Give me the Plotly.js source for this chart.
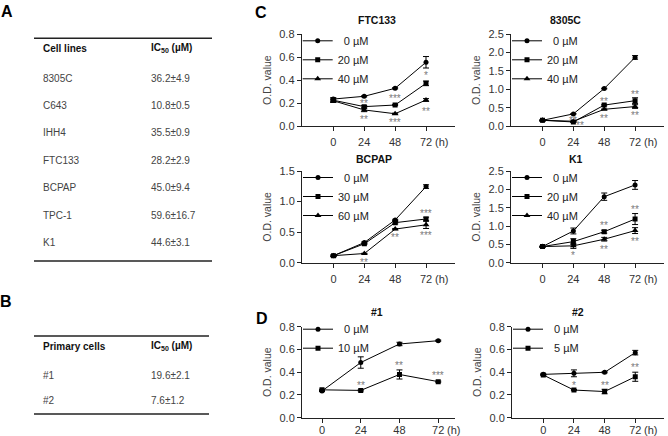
<!DOCTYPE html>
<html><head><meta charset="utf-8">
<script src="https://cdn.plot.ly/plotly-3.0.1.min.js"></script>
<style>html,body{margin:0;padding:0;background:#fff}#chart{width:668px;height:436px}</style>
</head><body><div id="chart"></div>
<script>
// ---------- data ----------
const hours = [0, 24, 48, 72];
const hourLabels = ['0', '24', '48', '72'];

// Table A
const cellLines = ['8305C', 'C643', 'IHH4', 'FTC133', 'BCPAP', 'TPC-1', 'K1'];
const cellIC50 = ['36.2±4.9', '10.8±0.5', '35.5±0.9', '28.2±2.9', '45.0±9.4', '59.6±16.7', '44.6±3.1'];
// Table B
const primaryCells = ['#1', '#2'];
const primaryIC50 = ['19.6±2.1', '7.6±1.2'];

// FTC133
const ftc133Doses = ['0 µM', '20 µM', '40 µM'];
const ftc133_0 = [0.235, 0.259, 0.329, 0.556];
const ftc133_0err = [0.01, 0.005, 0.005, 0.05];
const ftc133_20 = [0.225, 0.169, 0.183, 0.372];
const ftc133_20err = [0.02, 0.01, 0.005, 0.02];
const ftc133_40 = [0.22, 0.14, 0.107, 0.227];
const ftc133_40err = [0.01, 0.015, 0.005, 0.012];
const ftc133SigX = [24, 24, 48, 48, 72, 72];
const ftc133SigY = [0.212, 0.072, 0.26, 0.051, 0.46, 0.148];
const ftc133SigText = ['**', '**', '***', '***', '*', '**'];

// 8305C
const c8305Doses = ['0 µM', '20 µM', '40 µM'];
const c8305_0 = [0.155, 0.33, 1.02, 1.87];
const c8305_0err = [0.01, 0.01, 0.01, 0.05];
const c8305_20 = [0.155, 0.11, 0.57, 0.69];
const c8305_20err = [0.01, 0.01, 0.02, 0.08];
const c8305_40 = [0.155, 0.13, 0.455, 0.53];
const c8305_40err = [0.01, 0.01, 0.01, 0.05];
const c8305SigX = [24, 29.5, 48, 48, 72, 72];
const c8305SigY = [0.21, 0.074, 0.735, 0.253, 0.918, 0.346];
const c8305SigText = ['**', '**', '**', '**', '**', '**'];

// BCPAP
const bcpapDoses = ['0 µM', '30 µM', '60 µM'];
const bcpap_0 = [0.115, 0.33, 0.70, 1.245];
const bcpap_0err = [0.01, 0.01, 0.01, 0.03];
const bcpap_30 = [0.115, 0.31, 0.655, 0.715];
const bcpap_30err = [0.01, 0.01, 0.02, 0.03];
const bcpap_60 = [0.115, 0.15, 0.55, 0.62];
const bcpap_60err = [0.01, 0.005, 0.01, 0.06];
const bcpapSigX = [24, 48, 72, 72];
const bcpapSigY = [0.044, 0.44, 0.84, 0.475];
const bcpapSigText = ['**', '**', '***', '***'];

// K1
const k1Doses = ['0 µM', '20 µM', '40 µM'];
const k1_0 = [0.44, 0.865, 1.80, 2.12];
const k1_0err = [0.01, 0.08, 0.1, 0.12];
const k1_20 = [0.44, 0.575, 0.845, 1.19];
const k1_20err = [0.01, 0.08, 0.04, 0.15];
const k1_40 = [0.44, 0.46, 0.64, 0.875];
const k1_40err = [0.01, 0.07, 0.05, 0.08];
const k1SigX = [24, 48, 48, 72, 72];
const k1SigY = [0.256, 1.055, 0.41, 1.5, 0.64];
const k1SigText = ['*', '**', '**', '**', '**'];

// Primary #1
const p1Doses = ['0 µM', '10 µM'];
const p1_0 = [0.235, 0.485, 0.648, 0.677];
const p1_0err = [0.005, 0.05, 0.015, 0.005];
const p1_10 = [0.245, 0.24, 0.38, 0.317];
const p1_10err = [0.005, 0.005, 0.04, 0.005];
const p1SigX = [24, 48, 72];
const p1SigY = [0.30, 0.478, 0.387];
const p1SigText = ['**', '**', '***'];

// Primary #2
const p2Doses = ['0 µM', '5 µM'];
const p2_0 = [0.381, 0.39, 0.399, 0.572];
const p2_0err = [0.005, 0.03, 0.005, 0.02];
const p2_5 = [0.375, 0.243, 0.23, 0.36];
const p2_5err = [0.005, 0.005, 0.02, 0.04];
const p2SigX = [24, 48, 72];
const p2SigY = [0.30, 0.30, 0.463];
const p2SigText = ['*', '**', '**'];

// ---------- layout helpers ----------
const W = 668, H = 436;
const fx = p => p / W;
const fy = p => 1 - p / H;
const FONT = 'Liberation Sans, Arial, sans-serif';
const symbols = ['circle', 'square', 'triangle-up'];
const msize = {'circle': 5, 'square': 5, 'triangle-up': 6};

const panels = [
  {title: 'FTC133', doses: ftc133Doses, means: [ftc133_0, ftc133_20, ftc133_40], errs: [ftc133_0err, ftc133_20err, ftc133_40err],
   sigX: ftc133SigX, sigY: ftc133SigY, sigT: ftc133SigText, ymax: 0.8, dtick: 0.2,
   g: {x0: 301.7, x1: 455, y0: 34.3, y1: 126, xr: [-24.5, 94.5], tx: 377, ty: 20, lab: 16, leg: 6}},
  {title: '8305C', doses: c8305Doses, means: [c8305_0, c8305_20, c8305_40], errs: [c8305_0err, c8305_20err, c8305_40err],
   sigX: c8305SigX, sigY: c8305SigY, sigT: c8305SigText, ymax: 2.5, dtick: 0.5,
   g: {x0: 511, x1: 664, y0: 34.3, y1: 126, xr: [-24.5, 94.5], tx: 565, ty: 20, lab: 16, leg: 6}},
  {title: 'BCPAP', doses: bcpapDoses, means: [bcpap_0, bcpap_30, bcpap_60], errs: [bcpap_0err, bcpap_30err, bcpap_60err],
   sigX: bcpapSigX, sigY: bcpapSigY, sigT: bcpapSigText, ymax: 1.5, dtick: 0.5,
   g: {x0: 302, x1: 455, y0: 171, y1: 262.7, xr: [-24.5, 94.5], tx: 374, ty: 159, lab: 16, leg: 6}},
  {title: 'K1', doses: k1Doses, means: [k1_0, k1_20, k1_40], errs: [k1_0err, k1_20err, k1_40err],
   sigX: k1SigX, sigY: k1SigY, sigT: k1SigText, ymax: 2.5, dtick: 0.5,
   g: {x0: 511, x1: 664, y0: 171, y1: 262.7, xr: [-24.5, 94.5], tx: 576, ty: 159, lab: 16, leg: 6}},
  {title: '#1', doses: p1Doses, means: [p1_0, p1_10], errs: [p1_0err, p1_10err],
   sigX: p1SigX, sigY: p1SigY, sigT: p1SigText, ymax: 0.8, dtick: 0.2,
   g: {x0: 302, x1: 455, y0: 326.7, y1: 417.7, xr: [-12.4, 82.4], tx: 377, ty: 312, lab: 12, leg: 2}},
  {title: '#2', doses: p2Doses, means: [p2_0, p2_5], errs: [p2_0err, p2_5err],
   sigX: p2SigX, sigY: p2SigY, sigT: p2SigText, ymax: 0.8, dtick: 0.2,
   g: {x0: 512, x1: 664, y0: 326.7, y1: 417.7, xr: [-24.5, 94.5], tx: 578, ty: 312, lab: 12, leg: 2}}
];

const pad = s => s.replace(/^(\d) /, '\u00a0\u00a0$1 ');

const data = [];
const annotations = [];
const shapes = [];
const layout = {
  width: W, height: H,
  margin: {l: 0, r: 0, t: 0, b: 0},
  paper_bgcolor: '#fff', plot_bgcolor: 'rgba(0,0,0,0)',
  font: {family: FONT, size: 11, color: '#333'},
  showlegend: true
};

panels.forEach((p, i) => {
  const n = i + 1;
  const suf = n === 1 ? '' : String(n);
  const g = p.g;
  const legId = 'legend' + suf;
  p.means.forEach((m, k) => {
    const sym = symbols[k];
    data.push({
      type: 'scatter', mode: 'lines+markers',
      x: hours, y: m, name: pad(p.doses[k]),
      xaxis: 'x' + suf, yaxis: 'y' + suf, legend: legId,
      line: {color: '#000', width: 1},
      marker: {symbol: sym, size: msize[sym], color: '#000'},
      error_y: {type: 'data', array: p.errs[k], visible: true, color: '#000', thickness: 1, width: 3}
    });
  });
  layout['xaxis' + suf] = {
    domain: [fx(g.x0), fx(g.x1)], range: g.xr, anchor: 'y' + suf,
    tickmode: 'array', tickvals: hours, ticktext: hourLabels,
    showline: true, linecolor: '#222', linewidth: 1,
    ticks: 'outside', ticklen: 4, tickcolor: '#222',
    showgrid: false, zeroline: false, fixedrange: true,
    tickfont: {size: 11, color: '#333'}, ticklabelstandoff: Math.round(g.lab - 14)
  };
  layout['yaxis' + suf] = {
    domain: [fy(g.y1), fy(g.y0)], range: [0, p.ymax], anchor: 'x' + suf,
    tick0: 0, dtick: p.dtick, tickformat: '.1f',
    showline: true, linecolor: '#222', linewidth: 1,
    ticks: 'outside', ticklen: 4, tickcolor: '#222',
    showgrid: false, zeroline: false, fixedrange: true,
    tickfont: {size: 11, color: '#333'},
    title: {text: 'O.D. value', font: {size: 10.5, color: '#444'}}
  };
  const firstRow = g.y0 + g.leg;
  layout[legId] = {
    x: fx(g.x0 - 4), xanchor: 'left', y: fy(firstRow - 14), yanchor: 'top',
    bgcolor: 'rgba(0,0,0,0)', borderwidth: 0,
    font: {size: 11, color: '#222'}, tracegroupgap: 0
  };
  // panel title
  annotations.push({xref: 'paper', yref: 'paper', x: fx(g.tx), y: fy(g.ty), text: '<b>' + p.title + '</b>',
    showarrow: false, xanchor: 'center', yanchor: 'middle', font: {size: 10.5, color: '#111'}});
  // "(h)" unit next to the last tick
  annotations.push({xref: 'x' + suf, yref: 'y' + suf, x: 72, y: 0, xshift: 15, yshift: -g.lab, text: '(h)',
    showarrow: false, xanchor: 'center', yanchor: 'middle', font: {size: 11, color: '#333'}});
  // significance marks
  p.sigX.forEach((sx, k) => {
    annotations.push({xref: 'x' + suf, yref: 'y' + suf, x: sx, y: p.sigY[k], text: p.sigT[k],
      showarrow: false, xanchor: 'center', yanchor: 'middle', yshift: -2, font: {size: 10, color: '#7a7a7a'}});
  });
});

// panel letters
[['A', 7, 11], ['B', 6, 301], ['C', 261, 12], ['D', 262, 318.5]].forEach(([t, x, y]) => {
  annotations.push({xref: 'paper', yref: 'paper', x: fx(x), y: fy(y), text: '<b>' + t + '</b>',
    showarrow: false, xanchor: 'center', yanchor: 'middle', font: {size: 16, color: '#000'}});
});

// tables
const col1 = 41, col2 = 149;
function tableText(text, x, y, bold) {
  annotations.push({xref: 'paper', yref: 'paper', x: fx(x), y: fy(y), text: bold ? '<b>' + text + '</b>' : text,
    showarrow: false, xanchor: 'left', yanchor: 'middle', font: {size: 10, color: bold ? '#111' : '#444'}});
}
function rule(x0, x1, y) {
  shapes.push({type: 'line', xref: 'paper', yref: 'paper', x0: fx(x0), x1: fx(x1), y0: fy(y), y1: fy(y),
    line: {color: '#222', width: 1.5}});
}
// Table A
rule(34, 212, 38.3);
tableText('Cell lines', col1, 48.5, true);
tableText('IC<sub>50</sub> (µM)', col2, 48.5, true);
cellLines.forEach((c, k) => {
  const y = 78 + k * 27.4;
  tableText(c, col1, y, false);
  tableText(cellIC50[k], col2, y, false);
});
rule(34, 212, 261);
// Table B
rule(34, 209, 336);
tableText('Primary cells', col1, 346, true);
tableText('IC<sub>50</sub> (µM)', col2, 346, true);
primaryCells.forEach((c, k) => {
  const y = 375 + k * 25;
  tableText(c, col1, y, false);
  tableText(primaryIC50[k], col2, y, false);
});
rule(34, 209, 414);

layout.annotations = annotations;
layout.shapes = shapes;

Plotly.newPlot('chart', data, layout, {staticPlot: true, displayModeBar: false});
</script>
</body></html>
